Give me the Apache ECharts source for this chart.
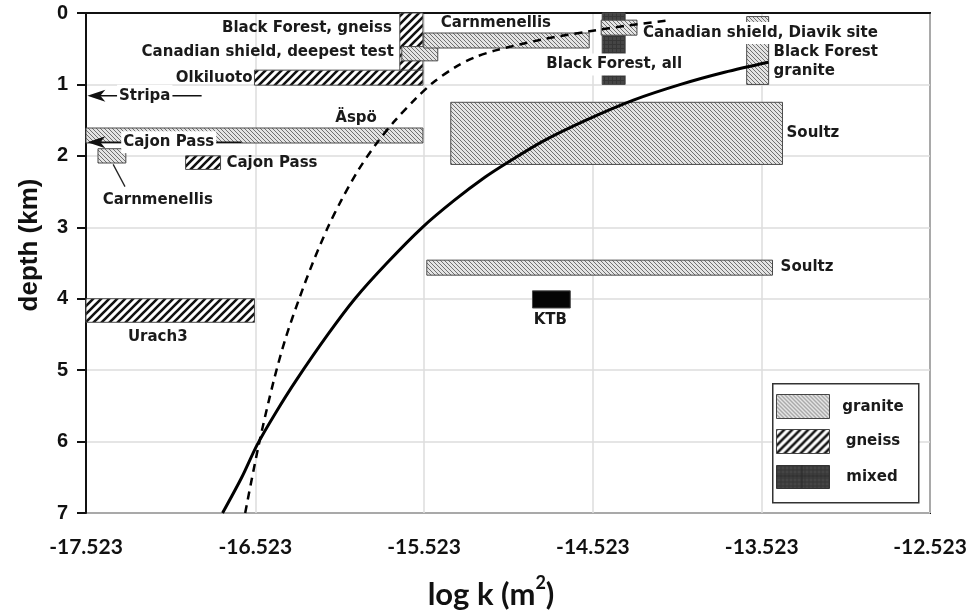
<!DOCTYPE html>
<html>
<head>
<meta charset="utf-8">
<script src="https://cdn.jsdelivr.net/npm/echarts@6/dist/echarts.min.js"></script>
<style>html,body{margin:0;padding:0;background:#fff}#c{width:971px;height:615px}</style>
</head>
<body>
<div id="c"></div>
<script>
// ---------- data ----------
const xTickLabels = ['-17.523', '-16.523', '-15.523', '-14.523', '-13.523', '-12.523'];
const yTickLabels = ['0', '1', '2', '3', '4', '5', '6', '7'];

const barNames   = ['Black Forest, gneiss', 'Olkiluoto', 'Canadian shield, deepest test', 'Carnmenellis (upper)',
                    'Black Forest, all', 'Canadian shield, Diavik site', 'Black Forest granite', 'Äspö',
                    'Soultz (upper)', 'Carnmenellis (lower)', 'Cajon Pass', 'Soultz (lower)', 'KTB', 'Urach3'];
const barLogKMin = [-15.664, -16.525, -15.652, -15.522, -14.465, -14.471, -13.609, -17.523, -15.362, -17.452, -16.933, -15.504, -14.878, -17.523];
const barLogKMax = [-15.527, -15.527, -15.439, -14.542, -14.329, -14.259, -13.479, -15.527, -13.397, -17.287, -16.726, -13.456, -14.654, -16.525];
const barDepthTop    = [0.00, 0.80, 0.47, 0.28, 0.00, 0.10, 0.05, 1.61, 1.25, 1.90, 2.00, 3.46, 3.89, 4.00];
const barDepthBottom = [0.85, 1.01, 0.67, 0.49, 1.00, 0.31, 1.00, 1.82, 2.12, 2.10, 2.19, 3.67, 4.13, 4.33];
const barRock = ['gneiss', 'gneiss', 'granite', 'granite', 'mixed', 'granite', 'granite', 'granite',
                 'granite', 'granite', 'gneiss', 'granite', 'mixed', 'gneiss'];

const solidLogK  = [-16.714, -16.60, -16.51, -16.40, -16.277, -16.09, -15.93, -15.74, -15.53, -15.34, -15.16, -15.03, -14.82, -14.56, -14.28, -14.00, -13.74, -13.48];
const solidDepth = [7.0, 6.5, 6.05, 5.6, 5.14, 4.5, 4.0, 3.5, 3.0, 2.62, 2.3, 2.1, 1.8, 1.5, 1.22, 1.0, 0.83, 0.69];

const dashedLogK  = [-16.58, -16.50, -16.41, -16.34, -16.26, -16.18, -16.09, -16.01, -15.91, -15.80, -15.69, -15.57, -15.47, -15.33, -15.22, -15.09, -14.82, -14.55, -14.30, -14.06];
const dashedDepth = [7.0, 6.05, 5.14, 4.55, 4.0, 3.5, 3.0, 2.62, 2.2, 1.82, 1.5, 1.2, 0.98, 0.75, 0.62, 0.52, 0.37, 0.26, 0.17, 0.10];

const noteTexts = ['Black Forest, gneiss', 'Canadian shield, deepest test', 'Olkiluoto', 'Stripa', 'Äspö',
                   'Cajon Pass', 'Cajon Pass', 'Carnmenellis', 'Carnmenellis', 'Black Forest, all',
                   'Canadian shield, Diavik site', 'Black Forest\ngranite', 'Soultz', 'Soultz', 'KTB', 'Urach3'];
const noteLogK  = [-15.711, -15.699, -16.537, -17.175, -15.923, -17.033, -16.691, -17.098, -15.421, -14.394,
                   -14.235, -13.450, -13.373, -13.408, -14.772, -17.098];
const noteDepth = [0.21, 0.55, 0.91, 1.16, 1.47, 1.81, 2.10, 2.62, 0.14, 0.72, 0.28, 0.68, 1.68, 3.56, 4.30, 4.54];
const noteAlign = ['right', 'right', 'right', 'center', 'center', 'center', 'left', 'center', 'left', 'center',
                   'left', 'left', 'left', 'left', 'center', 'center'];
const noteBoxed = [false, false, false, true, false, true, false, false, false, true, true, false, false, false, false, false];

// arrows (Stripa, Cajon Pass) and leader (Carnmenellis)
const arrowFromLogK = [-16.838, -16.602];
const arrowToLogK   = [-17.515, -17.515];
const arrowDepth    = [1.16, 1.81];
const leaderLogK  = [-17.362, -17.292];
const leaderDepth = [2.12, 2.43];

const legendNames = ['granite', 'gneiss', 'mixed'];

// ---------- patterns ----------
function makePattern(kind) {
  const c = document.createElement('canvas');
  let s;
  if (kind === 'granite') {
    s = 4; c.width = s; c.height = s;
    const g = c.getContext('2d');
    g.fillStyle = '#e4e4e4'; g.fillRect(0, 0, s, s);
    g.strokeStyle = '#707070'; g.lineWidth = 1;
    g.beginPath();
    g.moveTo(-1, -1); g.lineTo(s + 1, s + 1);
    g.moveTo(-1, s - 1); g.lineTo(1, s + 1);
    g.moveTo(s - 1, -1); g.lineTo(s + 1, 1);
    g.stroke();
  } else if (kind === 'gneiss') {
    s = 8; c.width = s; c.height = s;
    const g = c.getContext('2d');
    g.fillStyle = '#ffffff'; g.fillRect(0, 0, s, s);
    g.strokeStyle = '#111'; g.lineWidth = 2.6;
    g.beginPath();
    g.moveTo(-1, s + 1); g.lineTo(s + 1, -1);
    g.moveTo(-1, 1); g.lineTo(1, -1);
    g.moveTo(s - 1, s + 1); g.lineTo(s + 1, s - 1);
    g.stroke();
  } else if (kind === 'mixed') {
    s = 4; c.width = s; c.height = s;
    const g = c.getContext('2d');
    g.fillStyle = '#454545'; g.fillRect(0, 0, s, s);
    g.fillStyle = '#363636'; g.fillRect(0, 0, s, 1); g.fillRect(0, 0, 1, s);
  } else {
    s = 2; c.width = s; c.height = s;
    const g = c.getContext('2d');
    g.fillStyle = '#050505'; g.fillRect(0, 0, s, s);
  }
  return { image: c, repeat: 'repeat' };
}
const fills = {
  granite: makePattern('granite'),
  gneiss: makePattern('gneiss'),
  mixed: makePattern('mixed'),
  dark: makePattern('dark')
};
function fillFor(i) {
  if (barNames[i] === 'KTB') return fills.dark;
  return fills[barRock[i]];
}

const labelFont = 'bold 15px "DejaVu Sans"';
const textColor = '#1a1a1a';

const chart = echarts.init(document.getElementById('c'), null, { renderer: 'canvas' });

const option = {
  backgroundColor: '#ffffff',
  animation: false,
  grid: { left: 86, right: 41, top: 13, bottom: 102, show: true, borderColor: '#111', borderWidth: 2, backgroundColor: 'transparent' },
  xAxis: {
    type: 'value', min: -17.523, max: -12.523, interval: 1,
    axisLine: { show: true, lineStyle: { color: '#111', width: 2 } },
    axisTick: { show: false },
    splitLine: { show: true, lineStyle: { color: '#dcdcdc', width: 1.5 } },
    axisLabel: {
      margin: 24, color: '#111', fontFamily: 'Lato', fontWeight: 'bold', fontSize: 21,
      formatter: function (v) {
        let best = 0, bd = 1e9;
        xTickLabels.forEach((t, k) => { const d = Math.abs(parseFloat(t) - v); if (d < bd) { bd = d; best = k; } });
        return xTickLabels[best];
      }
    }
  },
  yAxis: {
    type: 'value', inverse: true, min: 0, max: 7, interval: 1,
    axisLine: { show: true, lineStyle: { color: '#111', width: 2 } },
    axisTick: { show: true, inside: false, length: 9, lineStyle: { color: '#111', width: 2 } },
    splitLine: { show: true, lineStyle: { color: '#dcdcdc', width: 1.5 } },
    axisLabel: {
      margin: 18, color: '#111', fontFamily: '"Liberation Sans"', fontWeight: 'bold', fontSize: 20,
      formatter: function (v) { return yTickLabels[Math.round(v)]; }
    }
  },
  series: [
    {
      type: 'custom', name: 'bars', z: 2,
      data: barNames.map((n, i) => [barLogKMin[i], barLogKMax[i], barDepthTop[i], barDepthBottom[i], i]),
      encode: { x: [0, 1], y: [2, 3] },
      renderItem: function (params, api) {
        const i = api.value(4);
        const p0 = api.coord([api.value(0), api.value(2)]);
        const p1 = api.coord([api.value(1), api.value(3)]);
        return {
          type: 'rect',
          shape: { x: Math.min(p0[0], p1[0]), y: Math.min(p0[1], p1[1]), width: Math.abs(p1[0] - p0[0]), height: Math.abs(p1[1] - p0[1]) },
          style: { fill: fillFor(i), stroke: '#4a4a4a', lineWidth: 1 }
        };
      }
    },
    {
      type: 'custom', name: 'arrows', z: 4,
      data: arrowDepth.map((d, i) => [arrowFromLogK[i], arrowToLogK[i], d]),
      encode: { x: [0, 1], y: 2 },
      renderItem: function (params, api) {
        const a = api.coord([api.value(0), api.value(2)]);
        const b = api.coord([api.value(1), api.value(2)]);
        return {
          type: 'group',
          children: [
            { type: 'line', shape: { x1: a[0], y1: a[1], x2: b[0] + 8, y2: b[1] }, style: { stroke: '#111', lineWidth: 1.5 } },
            { type: 'polygon', shape: { points: [[b[0], b[1]], [b[0] + 18, b[1] - 6], [b[0] + 13, b[1]], [b[0] + 18, b[1] + 6]] }, style: { fill: '#111' } }
          ]
        };
      }
    },
    {
      type: 'custom', name: 'leader', z: 4,
      data: [[leaderLogK[0], leaderDepth[0], leaderLogK[1], leaderDepth[1]]],
      encode: { x: [0, 2], y: [1, 3] },
      renderItem: function (params, api) {
        const a = api.coord([api.value(0), api.value(1)]);
        const b = api.coord([api.value(2), api.value(3)]);
        return { type: 'line', shape: { x1: a[0], y1: a[1], x2: b[0], y2: b[1] }, style: { stroke: '#222', lineWidth: 1.3 } };
      }
    },
    {
      type: 'custom', name: 'notes', z: 5,
      data: noteTexts.map((t, i) => [noteLogK[i], noteDepth[i], i]),
      encode: { x: 0, y: 1 },
      renderItem: function (params, api) {
        const i = api.value(2);
        const p = api.coord([api.value(0), api.value(1)]);
        const st = {
          text: noteTexts[i], font: labelFont, fill: textColor,
          align: noteAlign[i], verticalAlign: 'middle', lineHeight: 19
        };
        if (noteBoxed[i]) { st.backgroundColor = '#ffffff'; st.padding = [1, 2, 2, 2]; }
        return { type: 'text', x: p[0], y: p[1], style: st };
      }
    },
    {
      type: 'line', name: 'solid', z: 6, smooth: 0.3, showSymbol: false, symbol: 'none',
      data: solidLogK.map((x, i) => [x, solidDepth[i]]),
      lineStyle: { color: '#000', width: 3 }
    },
    {
      type: 'line', name: 'dashed', z: 6, smooth: 0.3, showSymbol: false, symbol: 'none',
      data: dashedLogK.map((x, i) => [x, dashedDepth[i]]),
      lineStyle: { color: '#000', width: 2.5, type: [8, 6] }
    }
  ],
  graphic: [
    { type: 'rect', left: 772, top: 383, shape: { width: 146, height: 119 }, style: { fill: '#fff', stroke: '#333', lineWidth: 1.5 }, z: 10 },
    { type: 'rect', left: 776, top: 394, shape: { width: 53, height: 24 }, style: { fill: fills.granite, stroke: '#444', lineWidth: 1 }, z: 11 },
    { type: 'rect', left: 776, top: 429, shape: { width: 53, height: 24 }, style: { fill: fills.gneiss, stroke: '#444', lineWidth: 1 }, z: 11 },
    { type: 'rect', left: 776, top: 465, shape: { width: 53, height: 23 }, style: { fill: fills.mixed, stroke: '#333', lineWidth: 1 }, z: 11 },
    { type: 'line', shape: { x1: 802, y1: 465, x2: 802, y2: 488 }, style: { stroke: '#2a2a2a', lineWidth: 1 }, z: 12 },
    { type: 'line', shape: { x1: 776, y1: 476, x2: 829, y2: 476 }, style: { stroke: '#2a2a2a', lineWidth: 1 }, z: 12 },
    { type: 'text', x: 873, y: 407, style: { text: legendNames[0], font: 'bold 15px "DejaVu Sans"', fill: textColor, align: 'center', verticalAlign: 'middle' }, z: 11 },
    { type: 'text', x: 873, y: 441, style: { text: legendNames[1], font: 'bold 15px "DejaVu Sans"', fill: textColor, align: 'center', verticalAlign: 'middle' }, z: 11 },
    { type: 'text', x: 872, y: 477, style: { text: legendNames[2], font: 'bold 15px "DejaVu Sans"', fill: textColor, align: 'center', verticalAlign: 'middle' }, z: 11 },
    { type: 'text', x: 30, y: 245, rotation: Math.PI / 2,
      style: { text: 'depth (km)', font: 'bold 26px "Liberation Sans"', fill: '#111', align: 'center', verticalAlign: 'middle' } },
    { type: 'text', x: 491, y: 592,
      style: {
        text: '{a|log k (m}{b|2}{a|)}', align: 'center', verticalAlign: 'middle',
        rich: {
          a: { font: 'bold 31px Lato', fill: '#111', lineHeight: 36, verticalAlign: 'bottom' },
          b: { font: 'bold 18px Lato', fill: '#111', lineHeight: 36, verticalAlign: 'top', padding: [0, 0, 14, 0] }
        }
      } }
  ]
};
chart.setOption(option);
</script>
</body>
</html>
